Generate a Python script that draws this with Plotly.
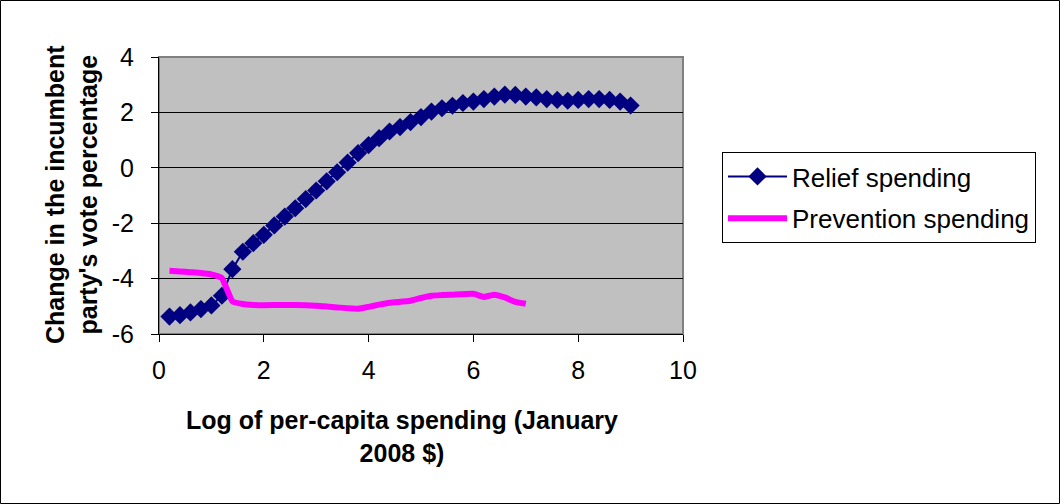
import plotly.graph_objects as go

# Relief spending
relief_x = [0.2, 0.4, 0.6, 0.8, 1.0, 1.2, 1.4, 1.6, 1.8, 2.0, 2.2, 2.4, 2.6, 2.8, 3.0,
            3.2, 3.4, 3.6, 3.8, 4.0, 4.2, 4.4, 4.6, 4.8, 5.0, 5.2, 5.4, 5.6, 5.8, 6.0,
            6.2, 6.4, 6.6, 6.8, 7.0, 7.2, 7.4, 7.6, 7.8, 8.0, 8.2, 8.4, 8.6, 8.8, 9.0]
relief_y = [-5.37, -5.32, -5.22, -5.10, -4.97, -4.62, -3.66, -3.03, -2.72, -2.42, -2.08, -1.76,
            -1.46, -1.13, -0.82, -0.49, -0.16, 0.19, 0.53, 0.82, 1.07, 1.31, 1.47, 1.65, 1.83,
            2.03, 2.15, 2.24, 2.34, 2.39, 2.48, 2.57, 2.64, 2.63, 2.57, 2.54, 2.48, 2.45, 2.42,
            2.45, 2.48, 2.48, 2.45, 2.39, 2.25]

# Prevention spending
prev_x = [0.2, 0.4, 0.6, 0.8, 1.0, 1.1, 1.2, 1.3, 1.4, 1.6, 1.8, 2.0, 2.4, 2.8, 3.0, 3.4,
          3.8, 4.0, 4.2, 4.4, 4.8, 5.0, 5.2, 5.6, 6.0, 6.2, 6.4, 6.6, 6.8, 7.0]
prev_y = [-3.72, -3.74, -3.77, -3.80, -3.85, -3.90, -3.98, -4.40, -4.82, -4.92, -4.95, -4.96,
          -4.95, -4.96, -4.98, -5.04, -5.09, -5.02, -4.94, -4.87, -4.80, -4.70, -4.62, -4.58,
          -4.55, -4.66, -4.58, -4.68, -4.84, -4.91]

x_ticks = [0, 2, 4, 6, 8, 10]
y_ticks = [-6, -4, -2, 0, 2, 4]

FONT = "Liberation Sans, Arial, sans-serif"
L, R, T, B = 159, 683, 57, 334
W, H = 1060, 504
pw, ph = R - L, B - T

def px(xp):
    return (xp - L) / pw

def py(yp):
    return (B - yp) / ph

fig = go.Figure()
fig.add_trace(go.Scatter(
    x=relief_x, y=relief_y, mode="lines+markers", name="Relief spending",
    line=dict(color="#000080", width=2),
    marker=dict(symbol="diamond", size=14, color="#000080"),
    legendgroup="a",
))
fig.add_trace(go.Scatter(
    x=prev_x, y=prev_y, mode="lines", name="Prevention spending",
    line=dict(color="#FF00FF", width=6, shape="spline", smoothing=0.4),
    legendgroup="b",
))

fig.update_layout(
    width=W, height=H,
    margin=dict(l=L, r=W - R, t=T, b=H - B),
    paper_bgcolor="white", plot_bgcolor="#C0C0C0",
    font=dict(family=FONT, size=25, color="black"),
    showlegend=True,
    legend=dict(
        x=px(722), y=py(152), xanchor="left", yanchor="top",
        bordercolor="black", borderwidth=1, bgcolor="white",
        font=dict(family=FONT, size=26, color="black"),
        tracegroupgap=5, traceorder="grouped", itemwidth=59,
    ),
    xaxis=dict(
        range=[0, 10], tickvals=x_ticks, ticktext=[str(v) for v in x_ticks],
        showgrid=False, zeroline=False, showline=True, linecolor="black", linewidth=1,
        ticks="outside", ticklen=7, tickcolor="black", ticklabelstandoff=7,
        tickfont=dict(family=FONT, size=25),
    ),
    yaxis=dict(
        range=[-6, 4], tickvals=y_ticks, ticktext=[str(v) for v in y_ticks],
        showgrid=True, gridcolor="black", gridwidth=1, zeroline=False,
        showline=True, linecolor="black", linewidth=1,
        ticks="outside", ticklen=7, tickcolor="black", ticklabelstandoff=12,
        tickfont=dict(family=FONT, size=25),
    ),
    shapes=[
        dict(type="rect", xref="paper", yref="paper", x0=0, x1=1, y0=0, y1=1,
             line=dict(color="#808080", width=2), layer="below"),
        dict(type="rect", xref="paper", yref="paper",
             x0=px(0.5), x1=px(W - 0.5), y0=py(H - 0.5), y1=py(0.5),
             line=dict(color="black", width=1)),
    ],
    annotations=[
        dict(text="<b>Change in the incumbent<br>party's vote percentage</b>",
             xref="paper", yref="paper", x=px(71), y=py(195),
             xanchor="center", yanchor="middle", textangle=-90, showarrow=False,
             font=dict(family=FONT, size=25)),
        dict(text="<b>Log of per-capita spending (January<br>2008 $)</b>",
             xref="paper", yref="paper", x=px(402), y=py(436),
             xanchor="center", yanchor="middle", showarrow=False,
             font=dict(family=FONT, size=25)),
    ],
)

fig.write_html("out.html")
